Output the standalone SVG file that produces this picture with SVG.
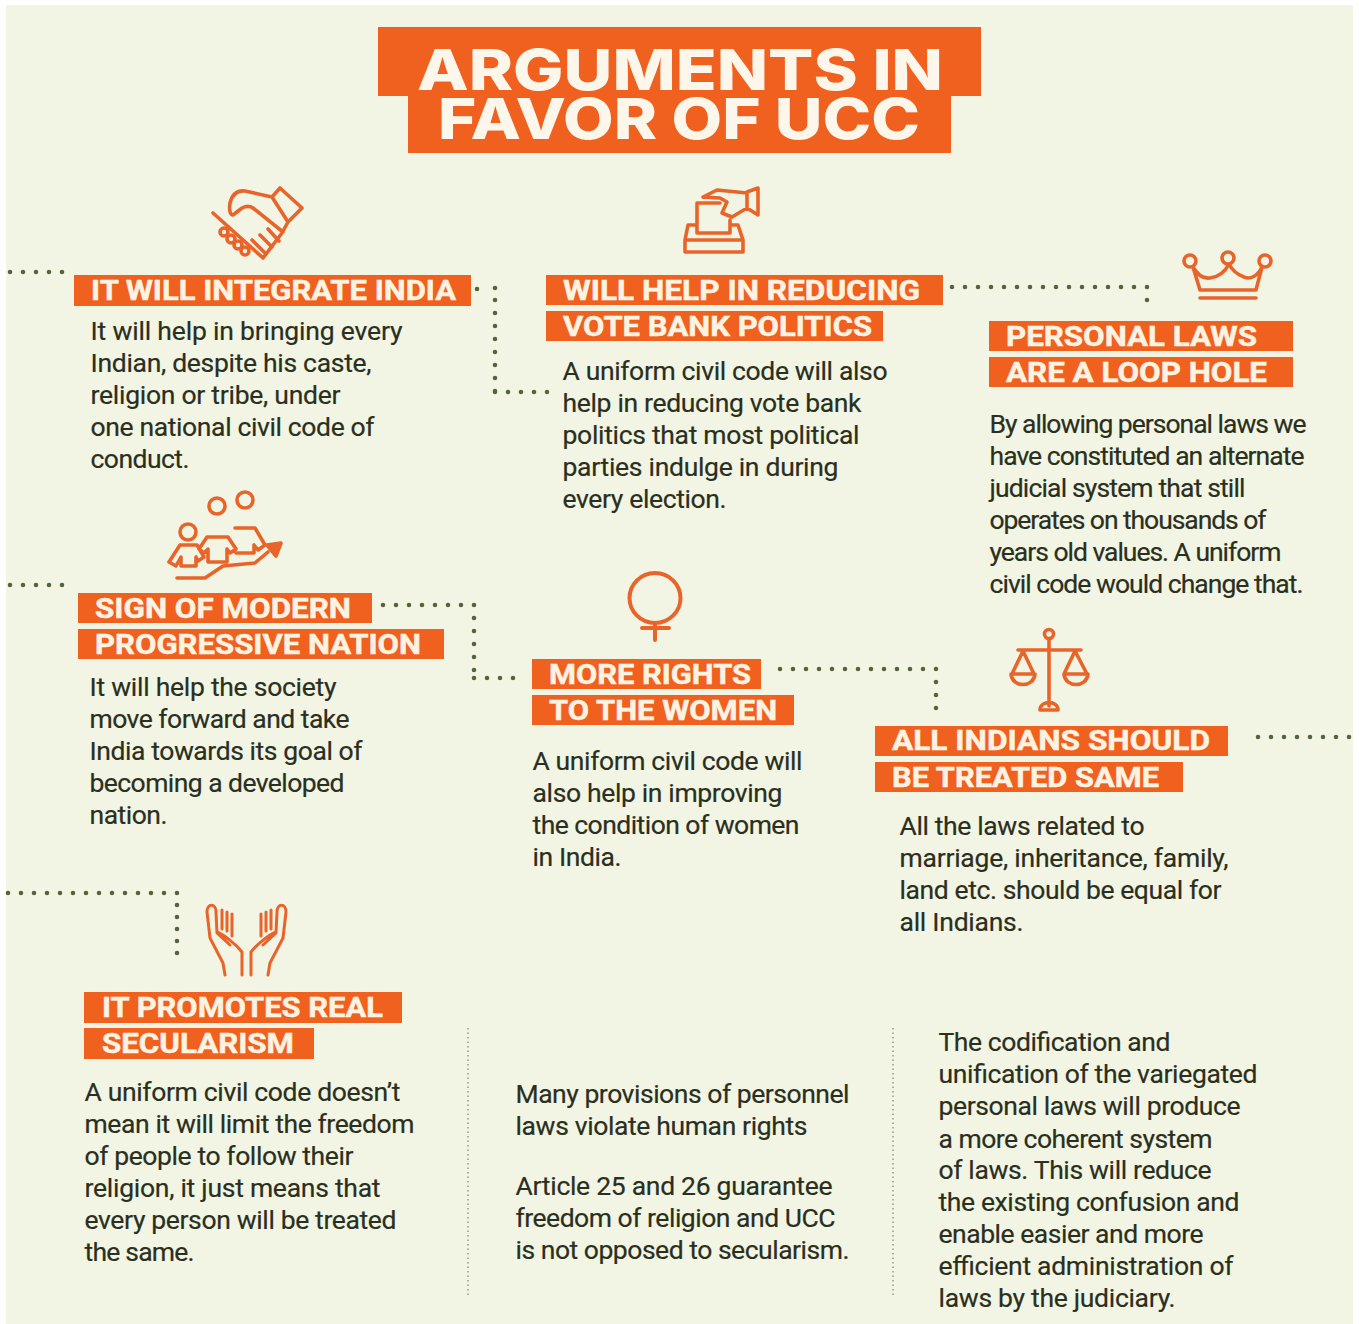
<svg xmlns="http://www.w3.org/2000/svg" width="1359" height="1324" viewBox="0 0 1359 1324">
<defs><style>
.bar{fill:#f0601f}
.h{font-family:Roboto,"Liberation Sans",sans-serif;font-weight:700;font-size:28px;fill:#fdf3e2;stroke:#fdf3e2;stroke-width:.5px}
.t{font-family:Roboto,"Liberation Sans",sans-serif;font-size:26.5px;fill:#2a2f1e;stroke:#2a2f1e;stroke-width:.2px;transform:translate(-.5px,-.7px)}
.title{font-family:Inter,"Liberation Sans",sans-serif;font-weight:800;font-size:57px;fill:#fdf6ea;text-anchor:middle}
.i{fill:none;stroke:#e8642a;stroke-width:3.6;stroke-linecap:round;stroke-linejoin:round}
.d{fill:none;stroke:#56633f;stroke-width:4.6;stroke-linecap:round;stroke-dasharray:0 13}
.c{fill:#56633f}
.v{fill:none;stroke:#8d9480;stroke-width:1.4;stroke-dasharray:1.5 3}
</style></defs>
<rect width="1359" height="1324" fill="#ffffff"/>
<rect x="6" y="5" width="1347" height="1319" fill="#f2f5e3"/>
<g id="title">
<rect class="bar" x="378" y="27" width="603" height="69"/><rect class="bar" x="408" y="90" width="543" height="63"/>
<text class="title" x="680" y="90" textLength="526" lengthAdjust="spacingAndGlyphs">ARGUMENTS IN</text>
<text class="title" x="679" y="139" textLength="482" lengthAdjust="spacingAndGlyphs">FAVOR OF UCC</text>
</g>
<g id="connectors">
<path class="d" d="M10 272H64"/><path class="d" d="M477 289h4M495 300V392M495 392H548"/>
<path class="d" d="M952 287H1147.500M1147 300V313"/>
<path class="d" d="M10 585H64"/><path class="d" d="M383 605H474.500M474 618V678M474 678H514"/>
<path class="d" d="M780 669H936.500M936 682V710"/>
<path class="d" d="M1258 737H1350"/>
<path class="d" d="M8 893H177.500"/>
<path class="d" style="stroke-dasharray:0 12" d="M177 905V954"/>
<circle class="c" cx="495" cy="288" r="2.300"/>
<path class="v" d="M468 1028V1298M893 1028V1298"/>
</g>
<g id="node-integrate">
<g class="i"><path d="M213 213L263 258 282 233 288 222M272 197L280 188 302 208 288 222ZM272 197L245 191C236 190 232 195 230 203 229 210 230 215 233 215L242 208C246 206 250 206 253 208L283 232M260 235L272 247M252 240L264 252M268 229L279 241"/><circle cx="224" cy="232" r="4"/><circle cx="231" cy="239" r="4"/><circle cx="238" cy="245" r="4"/><circle cx="245" cy="251" r="4"/></g>
<rect class="bar" x="74" y="275" width="397" height="31"/>
<text class="h" x="91" y="300" textLength="365" lengthAdjust="spacingAndGlyphs">IT WILL INTEGRATE INDIA</text>
<text class="t" x="91" y="341" textLength="312">It will help in bringing every</text>
<text class="t" x="91" y="373" textLength="281">Indian, despite his caste,</text>
<text class="t" x="91" y="405" textLength="250">religion or tribe, under</text>
<text class="t" x="91" y="437" textLength="284">one national civil code of</text>
<text class="t" x="91" y="469" textLength="99">conduct.</text>
</g>
<g id="node-votebank">
<g class="i"><path d="M730 220V233H697V203H720M685 252H743V240L738 225H730M697 225H688L685 240V252M685 240H743M703 197L717 190 747 193M747 192L758 188V215L747 208ZM747 208L732 217 722 213 727 202 720 198 703 197"/></g>
<rect class="bar" x="546" y="275" width="397" height="30"/><rect class="bar" x="546" y="311" width="337" height="30"/>
<text class="h" x="563" y="300" textLength="357" lengthAdjust="spacingAndGlyphs">WILL HELP IN REDUCING</text>
<text class="h" x="563" y="336" textLength="309" lengthAdjust="spacingAndGlyphs">VOTE BANK POLITICS</text>
<text class="t" x="563" y="381" textLength="325">A uniform civil code will also</text>
<text class="t" x="563" y="413" textLength="299">help in reducing vote bank</text>
<text class="t" x="563" y="445" textLength="297">politics that most political</text>
<text class="t" x="563" y="477" textLength="276">parties indulge in during</text>
<text class="t" x="563" y="509" textLength="164">every election.</text>
</g>
<g id="node-personal">
<g class="i"><circle cx="1190" cy="261" r="6"/><circle cx="1228" cy="258" r="6"/><circle cx="1265" cy="261" r="6"/><path d="M1193 267L1200 290H1256L1262 267C1258 276 1250 280 1244 277 1236 274 1232 270 1229 264 1225 272 1218 277 1210 278 1203 279 1197 274 1193 267ZM1200 298H1256"/></g>
<rect class="bar" x="989" y="321" width="304" height="30"/><rect class="bar" x="989" y="357" width="304" height="30"/>
<text class="h" x="1006" y="346" textLength="251" lengthAdjust="spacingAndGlyphs">PERSONAL LAWS</text>
<text class="h" x="1006" y="382" textLength="261" lengthAdjust="spacingAndGlyphs">ARE A LOOP HOLE</text>
<text class="t" x="990" y="434" textLength="317">By allowing personal laws we</text>
<text class="t" x="990" y="466" textLength="315">have constituted an alternate</text>
<text class="t" x="990" y="498" textLength="256">judicial system that still</text>
<text class="t" x="990" y="530" textLength="277">operates on thousands of</text>
<text class="t" x="990" y="562" textLength="292">years old values. A uniform</text>
<text class="t" x="990" y="594" textLength="314">civil code would change that.</text>
</g>
<g id="node-progressive">
<g class="i"><circle cx="217" cy="506" r="8"/><circle cx="245" cy="500" r="8"/><circle cx="188" cy="532" r="8"/><path d="M180 545H197L204 557 198 561 196 557V566H181V557L176 566 169 562ZM207 537H228L236 549 230 553 227 549V562H208V549L204 553 199 549ZM235 528H255L265 545 258 550 254 545V553H236M177 578H205L223 566 255 563 268 552"/><path d="M267 545L281 543 276 556Z" fill="#e8642a"/></g>
<rect class="bar" x="78" y="593" width="294" height="30"/><rect class="bar" x="78" y="629" width="366" height="30"/>
<text class="h" x="95" y="618" textLength="256" lengthAdjust="spacingAndGlyphs">SIGN OF MODERN</text>
<text class="h" x="95" y="654" textLength="326" lengthAdjust="spacingAndGlyphs">PROGRESSIVE NATION</text>
<text class="t" x="90" y="697" textLength="247">It will help the society</text>
<text class="t" x="90" y="729" textLength="260">move forward and take</text>
<text class="t" x="90" y="761" textLength="273">India towards its goal of</text>
<text class="t" x="90" y="793" textLength="255">becoming a developed</text>
<text class="t" x="90" y="825" textLength="78">nation.</text>
</g>
<g id="node-women">
<g class="i" style="stroke-width:4"><ellipse cx="655" cy="598" rx="25.500" ry="25"/><path d="M655 623V640M642 628H669"/></g>
<rect class="bar" x="532" y="659" width="229" height="30"/><rect class="bar" x="532" y="695" width="262" height="30"/>
<text class="h" x="549" y="684" textLength="202" lengthAdjust="spacingAndGlyphs">MORE RIGHTS</text>
<text class="h" x="549" y="720" textLength="228" lengthAdjust="spacingAndGlyphs">TO THE WOMEN</text>
<text class="t" x="533" y="771" textLength="270">A uniform civil code will</text>
<text class="t" x="533" y="803" textLength="250">also help in improving</text>
<text class="t" x="533" y="835" textLength="267">the condition of women</text>
<text class="t" x="533" y="867" textLength="89">in India.</text>
</g>
<g id="node-same">
<g class="i"><circle cx="1049" cy="634" r="4.500"/><path d="M1049 639V706M1018 650H1081M1023 651L1012 674M1023 651L1034 674M1075 651L1064 674M1075 651L1087 674M1011 674H1035C1034 688 1012 688 1011 674ZM1064 674H1088C1087 688 1065 688 1064 674ZM1040 710C1040 700 1058 700 1058 710Z"/></g>
<rect class="bar" x="875" y="726" width="353" height="30"/><rect class="bar" x="875" y="762" width="308" height="30"/>
<text class="h" x="892" y="750" textLength="318" lengthAdjust="spacingAndGlyphs">ALL INDIANS SHOULD</text>
<text class="h" x="892" y="787" textLength="267" lengthAdjust="spacingAndGlyphs">BE TREATED SAME</text>
<text class="t" x="900" y="836" textLength="245">All the laws related to</text>
<text class="t" x="900" y="868" textLength="329">marriage, inheritance, family,</text>
<text class="t" x="900" y="900" textLength="322">land etc. should be equal for</text>
<text class="t" x="900" y="932" textLength="124">all Indians.</text>
</g>
<g id="node-secularism">
<g class="i" style="stroke-width:3"><path d="M225 975L223 963 210 938 207 912C207 903 216 903 216 912L217 933 230 945M222 910V929M227 912V931M232 914V936M217 932C224 935 236 944 242 952V975"/><path transform="matrix(-1 0 0 1 493 0)" d="M225 975L223 963 210 938 207 912C207 903 216 903 216 912L217 933 230 945M222 910V929M227 912V931M232 914V936M217 932C224 935 236 944 242 952V975"/></g>
<rect class="bar" x="84" y="992" width="318" height="31"/><rect class="bar" x="84" y="1028" width="230" height="31"/>
<text class="h" x="102" y="1017" textLength="281" lengthAdjust="spacingAndGlyphs">IT PROMOTES REAL</text>
<text class="h" x="102" y="1053" textLength="192" lengthAdjust="spacingAndGlyphs">SECULARISM</text>
<text class="t" x="85" y="1102" textLength="316">A uniform civil code doesn’t</text>
<text class="t" x="85" y="1134" textLength="330">mean it will limit the freedom</text>
<text class="t" x="85" y="1166" textLength="269">of people to follow their</text>
<text class="t" x="85" y="1198" textLength="296">religion, it just means that</text>
<text class="t" x="85" y="1230" textLength="312">every person will be treated</text>
<text class="t" x="85" y="1262" textLength="110">the same.</text>
</g>
<g id="node-provisions">
<text class="t" x="516" y="1104" textLength="334">Many provisions of personnel</text>
<text class="t" x="516" y="1136" textLength="292">laws violate human rights</text>
<text class="t" x="516" y="1196" textLength="317">Article 25 and 26 guarantee</text>
<text class="t" x="516" y="1228" textLength="320">freedom of religion and UCC</text>
<text class="t" x="516" y="1260" textLength="334">is not opposed to secularism.</text>
</g>
<g id="node-codification">
<text class="t" x="939" y="1052" textLength="232">The codification and</text>
<text class="t" x="939" y="1084" textLength="319">unification of the variegated</text>
<text class="t" x="939" y="1116" textLength="302">personal laws will produce</text>
<text class="t" x="939" y="1149" textLength="274">a more coherent system</text>
<text class="t" x="939" y="1180" textLength="273">of laws. This will reduce</text>
<text class="t" x="939" y="1212" textLength="301">the existing confusion and</text>
<text class="t" x="939" y="1244" textLength="265">enable easier and more</text>
<text class="t" x="939" y="1276" textLength="295">efficient administration of</text>
<text class="t" x="939" y="1308" textLength="237">laws by the judiciary.</text>
</g>
</svg>
